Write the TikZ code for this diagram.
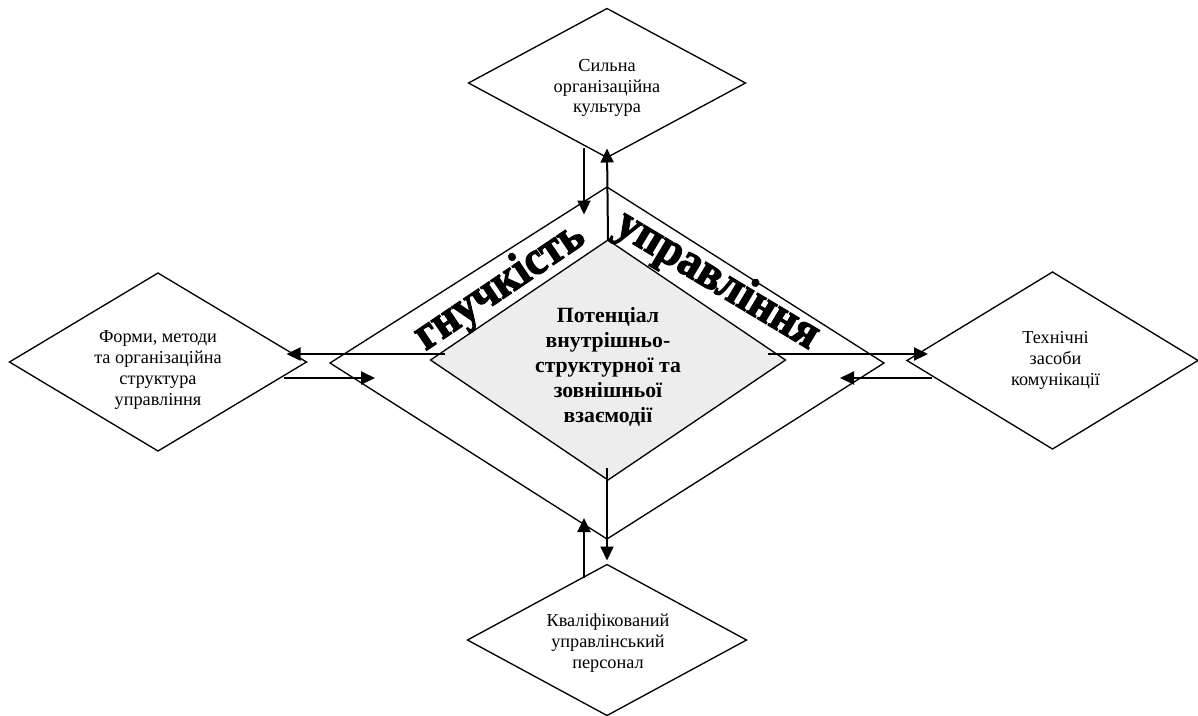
\documentclass[tikz,border=0pt]{standalone}
\usepackage{fontspec}
\setmainfont{Liberation Serif}
\newfontfamily\wordart{Liberation Serif}[BoldFeatures={FakeBold=2.5,FakeStretch=0.92}]
\usetikzlibrary{shapes.geometric,arrows.meta,calc}
\begin{document}
\begin{tikzpicture}[x=0.75pt,y=-0.75pt,
  dia/.style={diamond,draw,line width=1pt,inner sep=0pt,outer sep=0pt},
  core/.style={dia,fill=black!7},
  txt/.style={align=center,inner sep=0pt,font=\fontsize{13.7}{15.6}\selectfont},
  coretxt/.style={align=center,inner sep=0pt,font=\fontsize{16.3}{18.75}\selectfont\bfseries},
  arr/.style={line width=1.5pt,-{Triangle[length=10.5pt,width=9.75pt]}},
  wa/.style={font=\wordart\bfseries\fontsize{36}{36}\selectfont,inner sep=0pt}]
\useasboundingbox (0,0) rectangle (1198,715);
\node[dia,minimum width=415.5pt,minimum height=264pt] (O) at (607,363) {};
\node[core,minimum width=266.25pt,minimum height=180pt] (I) at (608,360) {};
\node[dia,minimum width=207.75pt,minimum height=111.75pt] (T) at (607,83) {};
\node[dia,minimum width=222.75pt,minimum height=133.5pt] (L) at (158,362) {};
\node[dia,minimum width=218.25pt,minimum height=132.75pt] (R) at (1052.5,360.5) {};
\node[dia,minimum width=209.25pt,minimum height=113.25pt] (B) at (607,640) {};
% texts
\node[coretxt] (It) at ($(I.center)+(0,7)$)
  {Потенціал\\внутрішньо-\\структурної та\\зовнішньої\\взаємодії};
\node[txt] (Tt) at ($(T.center)+(0,5)$) {Сильна\\організаційна\\культура};
\node[txt] (Lt) at ($(L.center)+(0,8)$) {Форми, методи\\та організаційна\\структура\\управління};
\node[txt] (Rt) at ($(R.center)+(3,0)$) {Технічні\\засоби\\комунікації};
\node[txt] (Bt) at ($(B.center)+(1,3)$) {Кваліфікований\\управлінський\\персонал};
% arrows
\draw[arr] ($(T.south)+(-23,-10)$) -- ($(T.south)+(-23,57)$);
\draw[arr] (I.north) -- ($(T.south)+(0,-9)$);
\draw[arr] ($(I.west)+(14,-6)$) -- ($(L.east)+(-20,-8)$);
\draw[arr] ($(L.east)+(-23,16)$) -- ($(O.west)+(45,15)$);
\draw[arr] ($(I.east)+(-18,-6)$) -- ($(R.west)+(21,-6.5)$);
\draw[arr] ($(R.west)+(25,17.5)$) -- ($(O.east)+(-44,15)$);
\draw[arr] ($(I.south)+(-1,-12)$) -- ($(B.north)+(0,-4)$);
\draw[arr] ($(B.north)+(-23,13)$) -- ($(O.south)+(-23,-21)$);
% word-art labels
\node[wa,rotate=34] (g) at (500,287) {гнучкість};
\node[wa,rotate=-31] (u) at (717,281) {управління};
\end{tikzpicture}
\end{document}
